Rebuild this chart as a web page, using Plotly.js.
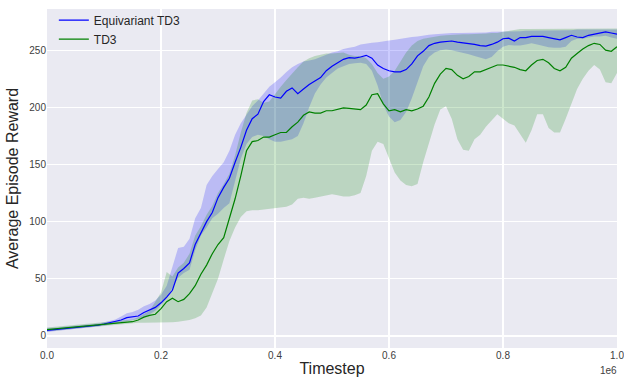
<!DOCTYPE html>
<html>
<head>
<meta charset="utf-8">
<script src="https://cdn.plot.ly/plotly-3.0.1.min.js"></script>
<style>html,body{margin:0;padding:0;background:#fff;}#chart{width:624px;height:381px;}</style>
</head>
<body>
<div id="chart"></div>
<script>
// Timesteps
const timesteps = [0,10000,20000,30000,40000,50000,60000,70000,80000,90000,
100000,110000,120000,130000,140000,150000,160000,170000,180000,190000,
200000,210000,220000,230000,240000,250000,260000,270000,280000,290000,
300000,310000,320000,330000,340000,350000,360000,370000,380000,390000,
400000,410000,420000,430000,440000,450000,460000,470000,480000,490000,
500000,510000,520000,530000,540000,550000,560000,570000,580000,590000,
600000,610000,620000,630000,640000,650000,660000,670000,680000,690000,
700000,710000,720000,730000,740000,750000,760000,770000,780000,790000,
800000,810000,820000,830000,840000,850000,860000,870000,880000,890000,
900000,910000,920000,930000,940000,950000,960000,970000,980000,990000,1000000];

// Equivariant TD3
const eqMean = [5,5.5,6,6.5,7,7.5,8,8.3,8.5,9.5,
10.5,11.5,12.5,14,16,16.5,17.5,20.5,23,25,
29,34,40,55,59,64,80,90,100,108,
121,130,138,152,165,180,190,194,205,211,
209,208,214,217,212,216,220,223,226,232,
236,239,242,243.5,243,244,245.5,243,237,234,
232,231,231,233,238,245,249,254,256,257,
257.5,258,257,256.5,255.5,255,254,253.5,255,257,
260,260.5,258,261,261,262,262,262,261,260,
259,261,263,261.5,261,263,264,265,266,265,264];
const eqUpper = [7,7,7.5,8,8.5,9,9.5,10,10,11,
12,13,14.5,17,20,21,23,26,28,31,
36,44,60,77,78,85,103,112,132,140,
146,152,162,176,186,193,201,206,212,218,
222,226,231,235,238,240,241,242,244,246,
248,249,251,252,253,255,256,256.5,257,258,
258.5,259,260,261,261.5,262,263,263.5,264,264.5,
265,265,265,265,265.5,265.5,265.5,265.5,266,266,
266,266,266.5,266.5,267,267,267,267,267.5,267.5,
267.5,267.5,267.5,268,268,268,268,268,268,268,268];
const eqLower = [3.5,4,5,5.5,6,6.5,7,7,7.5,8,
9,10,11,12,13,13.5,14.5,16,19,22,
27,33,42,51,55,58,75,88,95,103,
107,112,116,135,155,168,174,176,175,172,
170,170,171,172,175,186,200,212,220,226,
230,234,236,238,238.5,239,238,232,219,202,
192,187,189,196,208,222,236,244,248,250,
250.5,250,249,248,246.5,245,243.5,242,244,249,
253,254.5,254,254,255,256,255,253.5,252.5,252,
252,253,258,260,260,261,262,262,262.5,261,260];

// TD3
const tdMean = [5.5,6,6.5,7,7.5,8,8.5,9,9.5,10,
10.5,11,11.5,12,12,12.5,14,16.5,18,19,
24,30,33,30,32,37,44,54,62,72,
80,86,103,120,140,162,170,171,174,174,
176,178,178,183,187,193,196,195,195,197,
197,198,199.5,199,198.5,198,202,211,212,203,
197,198,196,198,197,198.5,201,209,221,229,
234,233,228,225,227,231,231,233,235,237,
237,236,235,233,232,237,241,242,239,234,
232,235,243,247,251,254,256,255,250,249,253];
const tdUpper = [7.5,8,8.5,9,9.5,10,10,10.5,11,11.5,
12,12.5,13,13.5,14,14.5,16.5,19,22,30,
38,56,52,60,64,72,88,96,106,114,
125,133,142,158,178,195,206,207,204,205,
212,218,224,230,235,240,243,245,246,247,
247,247.5,248,246,245,245,243,238,230,225,
227,232,240,248,254,258,260,261,262,262.5,
263,263.5,263.5,264,264,264,264.5,264.5,265,265,
266,267,268,268.5,268.5,268.5,268.5,269,269,269,
269,269,269,269,269,269,269,269,269,269,269];
const tdLower = [4,4.5,5,5.5,6,6.5,7,7.5,8,8.5,
9,9.5,10,10.5,11,11.5,11.5,11.5,11.5,11.5,
12,12,12,12.5,13,14,15.5,18,25,37,
50,67,83,95,104,109,110,110,110.5,111,
111.5,112,113,115,120,121,120,121,122,123,
124,123,122,122,123,125,140,162,170,168,
155,143,136,132,131,133,152,168,185,198,
201,190,172,163,162,172,176,183,189,194,
190,186,184,177,169,180,194,194,182,178,
178,190,203,216,225,232,237,233,222,221,230];

const seriesNames = ["Equivariant TD3", "TD3"];
const xTickVals = [0,200000,400000,600000,800000,1000000];
const xTickText = ["0.0","0.2","0.4","0.6","0.8","1.0"];
const yTickVals = [0,50,100,150,200,250];

const traces = [
  {x: timesteps, y: eqLower, mode: "lines", line: {width: 0, color: "rgba(0,0,255,0)"}, showlegend: false, hoverinfo: "skip"},
  {x: timesteps, y: eqUpper, mode: "lines", line: {width: 0, color: "rgba(0,0,255,0)"}, fill: "tonexty", fillcolor: "rgba(0,0,255,0.2)", showlegend: false, hoverinfo: "skip"},
  {x: timesteps, y: tdLower, mode: "lines", line: {width: 0, color: "rgba(0,128,0,0)"}, showlegend: false, hoverinfo: "skip"},
  {x: timesteps, y: tdUpper, mode: "lines", line: {width: 0, color: "rgba(0,128,0,0)"}, fill: "tonexty", fillcolor: "rgba(0,128,0,0.2)", showlegend: false, hoverinfo: "skip"},
  {x: timesteps, y: eqMean, mode: "lines", name: seriesNames[0], line: {color: "#0000ff", width: 1.2}},
  {x: timesteps, y: tdMean, mode: "lines", name: seriesNames[1], line: {color: "#008000", width: 1.2}}
];

const fontFam = "Liberation Sans, Arial, sans-serif";
const layout = {
  width: 624, height: 381,
  margin: {l: 47, r: 7, t: 6, b: 33, pad: 0},
  paper_bgcolor: "#ffffff",
  plot_bgcolor: "#EAEAF2",
  font: {family: fontFam, color: "#262626"},
  showlegend: true,
  legend: {x: 0.012, y: 1.01, xanchor: "left", yanchor: "top", traceorder: "normal", bgcolor: "rgba(0,0,0,0)", borderwidth: 0, font: {family: fontFam, size: 12, color: "#262626"}, tracegroupgap: 0},
  xaxis: {
    range: [0, 1000000], tickvals: xTickVals, ticktext: xTickText,
    showgrid: true, gridcolor: "#ffffff", gridwidth: 1.3, zeroline: false,
    showline: false, ticks: "", tickfont: {family: fontFam, size: 10, color: "#404040"},
    ticklabeloverflow: "allow",
    title: {text: "Timestep", font: {family: fontFam, size: 16, color: "#262626"}, standoff: 2},
    automargin: false
  },
  yaxis: {
    range: [-10.5, 286], tickvals: yTickVals,
    showgrid: true, gridcolor: "#ffffff", gridwidth: 1.3, zeroline: false,
    showline: false, ticks: "", tickfont: {family: fontFam, size: 10, color: "#404040"},
    title: {text: "Average Episode Reward", font: {family: fontFam, size: 16, color: "#262626"}, standoff: 6},
    automargin: false
  },
  annotations: [
    {xref: "paper", yref: "paper", x: 1.004, y: -0.043, xanchor: "right", yanchor: "top", text: "1e6", showarrow: false, font: {family: fontFam, size: 10, color: "#404040"}}
  ]
};

Plotly.newPlot("chart", traces, layout, {displayModeBar: false, staticPlot: true});
</script>
</body>
</html>
